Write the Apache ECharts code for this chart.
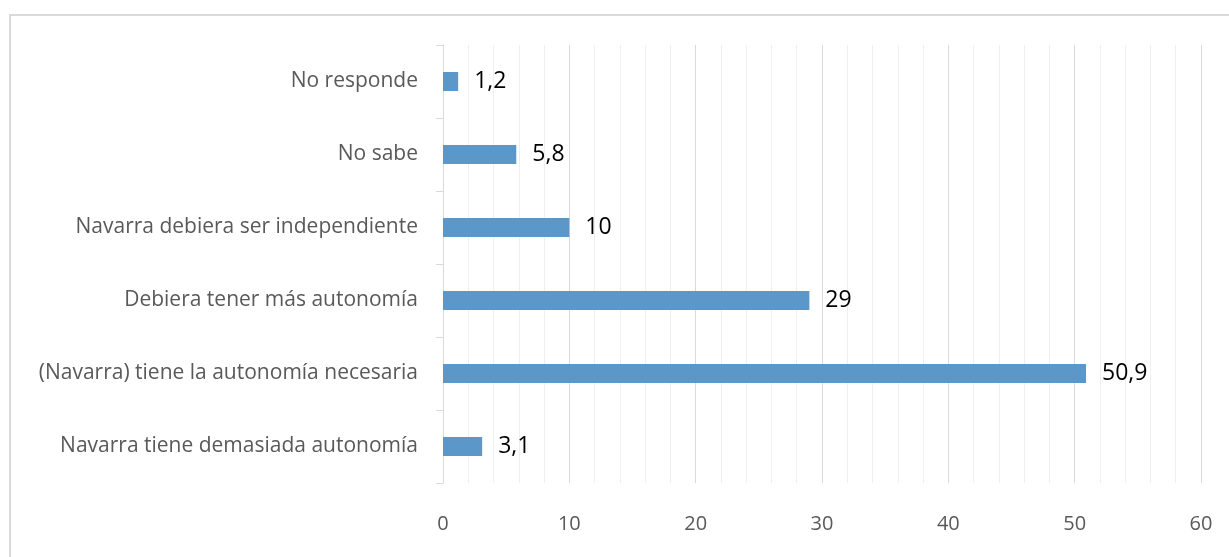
<!DOCTYPE html>
<html>
<head>
<meta charset="utf-8">
<script src="https://cdn.jsdelivr.net/npm/echarts@6/dist/echarts.min.js"></script>
<style>
  html, body { margin: 0; padding: 0; background: #fff; }
  #main { width: 1229px; height: 557px; }
</style>
</head>
<body>
<div id="main"></div>
<script>
// data, bottom to top as drawn by the category axis
var categories = [
  'Navarra tiene demasiada autonomía',
  '(Navarra) tiene la autonomía necesaria',
  'Debiera tener más autonomía',
  'Navarra debiera ser independiente',
  'No sabe',
  'No responde'
];
var values = [3.1, 50.9, 29, 10, 5.8, 1.2];
var xTicks = [0, 10, 20, 30, 40, 50, 60];

var myChart = echarts.init(document.getElementById('main'));

var option = {
  animation: false,
  backgroundColor: '#fff',
  textStyle: { fontFamily: 'Open Sans' },
  graphic: [{
    type: 'rect',
    shape: { x: 10, y: 15, width: 1240, height: 560 },
    style: { fill: 'none', stroke: '#d9d9d9', lineWidth: 2 },
    silent: true
  }],
  grid: { left: 443, right: 28, top: 45, bottom: 74 },
  xAxis: {
    type: 'value',
    min: xTicks[0],
    max: xTicks[xTicks.length - 1],
    interval: 10,
    axisLine: { show: false },
    axisTick: { show: false },
    axisLabel: { color: '#595959', fontSize: 20, margin: 31 },
    splitLine: { show: true, lineStyle: { color: '#d9d9d9', width: 1 } },
    minorTick: { show: false, splitNumber: 5 },
    minorSplitLine: { show: true, lineStyle: { color: '#efefef', width: 1 } }
  },
  yAxis: {
    type: 'category',
    data: categories,
    axisLine: { show: true, lineStyle: { color: '#d9d9d9', width: 1 } },
    axisTick: { show: true, length: 7, lineStyle: { color: '#d9d9d9' } },
    axisLabel: { color: '#595959', fontSize: 21, margin: 25, padding: [4, 0, 0, 0] }
  },
  series: [{
    type: 'bar',
    data: values,
    barWidth: 19,
    itemStyle: { color: '#5b97c8' },
    label: {
      show: true,
      position: 'right',
      distance: 16,
      color: '#000',
      fontSize: 23,
      formatter: function (p) { return String(p.value).replace('.', ','); }
    }
  }]
};

myChart.setOption(option);
</script>
</body>
</html>
